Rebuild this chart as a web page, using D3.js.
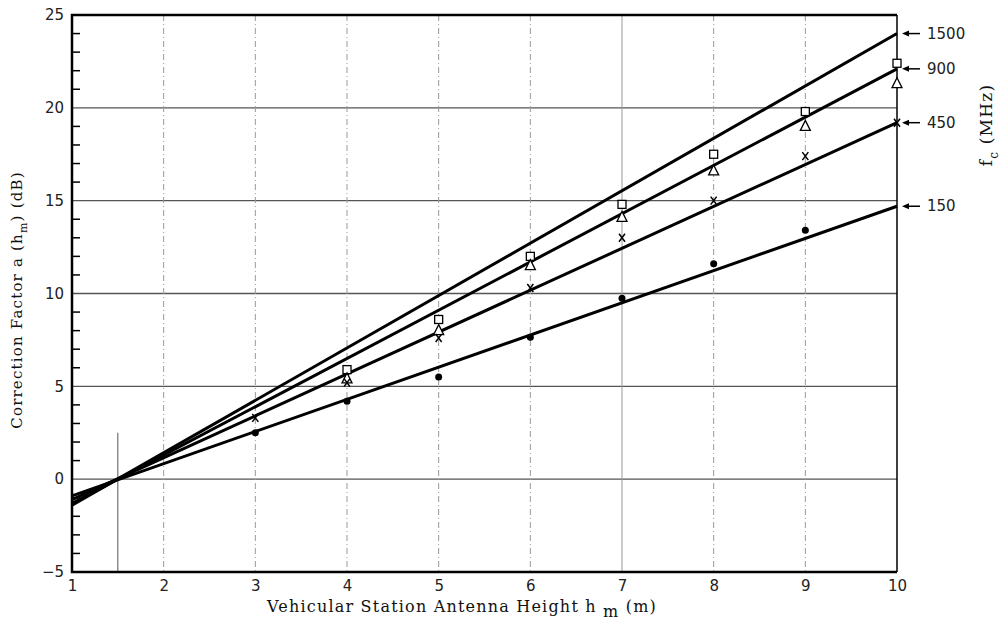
<!DOCTYPE html>
<html lang="en">
<head>
<meta charset="UTF-8">
<title>Correction factor a(hm)</title>
<style>
  body { margin: 0; background: #fff; }
  .tick text { font-family: "DejaVu Sans", sans-serif; font-size: 15px; fill: #222; }
  .lbl { font-family: "DejaVu Serif", serif; font-size: 16px; fill: #111; letter-spacing: 1.2px; }
  .fc { font-family: "DejaVu Sans", sans-serif; font-size: 15px; fill: #222; }
  .fitline { fill: none; stroke: #000; stroke-width: 3px; }
</style>
</head>
<body>
<svg id="chart"></svg>
<script src="https://d3js.org/d3.v7.min.js"></script>
<script>
// frequencies (MHz) and the straight lines, read at hm = 1 and hm = 10
var freqs = ["1500", "900", "450", "150"];
var lineHm = [1, 10];
var lineVals = [
  [-1.4, 24.0],
  [-1.3, 22.1],
  [-1.1, 19.2],
  [-0.9, 14.7]
];
// measured points
var hmSquare = [4, 5, 6, 7, 8, 9, 10];
var valSquare = [5.9, 8.6, 12.0, 14.8, 17.5, 19.8, 22.4];
var hmTri = [4, 5, 6, 7, 8, 9, 10];
var valTri = [5.4, 8.0, 11.5, 14.1, 16.6, 19.0, 21.3];
var hmCross = [3, 4, 5, 6, 7, 8, 9, 10];
var valCross = [3.3, 5.2, 7.6, 10.3, 13.0, 15.0, 17.4, 19.2];
var hmDot = [3, 4, 5, 6, 7, 8, 9];
var valDot = [2.5, 4.2, 5.5, 7.65, 9.75, 11.6, 13.4];
var xTicks = [1, 2, 3, 4, 5, 6, 7, 8, 9, 10];
var yTicks = [-5, 0, 5, 10, 15, 20, 25];

var width = 1006, height = 626;
var m = { left: 72, right: 109, top: 15, bottom: 54 };
var svg = d3.select('#chart').attr('width', width).attr('height', height);

var x = d3.scaleLinear().domain([1, 10]).range([m.left, width - m.right]);
var y = d3.scaleLinear().domain([-5, 25]).range([height - m.bottom, m.top]);

// grid
var grid = svg.append('g');
grid.selectAll('.hg').data([0, 5, 10, 15, 20]).enter().append('line')
  .attr('x1', x(1)).attr('x2', x(10))
  .attr('y1', function(d){ return y(d); }).attr('y2', function(d){ return y(d); })
  .attr('stroke', '#555').attr('stroke-width', 1.3);
grid.selectAll('.vg').data([2, 3, 4, 5, 6, 7, 8, 9]).enter().append('line')
  .attr('x1', function(d){ return x(d); }).attr('x2', function(d){ return x(d); })
  .attr('y1', y(25)).attr('y2', y(-5))
  .attr('stroke', '#999').attr('stroke-width', 1)
  .attr('stroke-dasharray', function(d){ return d === 7 ? null : '6,3,1,3'; });
grid.append('line')
  .attr('x1', x(1.5)).attr('x2', x(1.5))
  .attr('y1', y(2.5)).attr('y2', y(-5))
  .attr('stroke', '#555').attr('stroke-width', 1);

// axes
var xAxis = d3.axisBottom(x).tickValues(xTicks).tickSize(0).tickPadding(8);
svg.append('g').attr('transform', 'translate(0,' + y(-5) + ')').call(xAxis)
  .call(function(g){ g.select('.domain').remove(); });
var yAxis = d3.axisLeft(y).tickValues(yTicks).tickSize(0).tickPadding(8)
  .tickFormat(function(d){ return d < 0 ? '\u2212' + (-d) : d; });
svg.append('g').attr('transform', 'translate(' + x(1) + ',0)').call(yAxis)
  .call(function(g){ g.select('.domain').remove(); });

// minor ticks on the left axis
svg.append('g').selectAll('line').data(d3.range(-5, 26).filter(function(d){ return d % 5 !== 0; }))
  .enter().append('line')
  .attr('x1', x(1)).attr('x2', x(1) + 8)
  .attr('y1', function(d){ return y(d); }).attr('y2', function(d){ return y(d); })
  .attr('stroke', '#000').attr('stroke-width', 1.5);

// frame
svg.append('path')
  .attr('d', 'M' + x(10) + ',' + y(25) + 'H' + x(1) + 'V' + y(-5) + 'H' + x(10))
  .attr('fill', 'none').attr('stroke', '#000').attr('stroke-width', 2.5);
svg.append('line').attr('x1', x(10)).attr('x2', x(10)).attr('y1', y(25)).attr('y2', y(-5))
  .attr('stroke', '#000').attr('stroke-width', 1.5);

// lines
var line = d3.line().x(function(d){ return x(d[0]); }).y(function(d){ return y(d[1]); });
svg.append('g').selectAll('path').data(lineVals).enter().append('path')
  .attr('class', 'fitline')
  .attr('d', function(v){ return line(lineHm.map(function(h, i){ return [h, v[i]]; })); });

// markers
function pts(hs, vs){ return hs.map(function(h, i){ return [h, vs[i]]; }); }
var mk = svg.append('g');
mk.selectAll('.sq').data(pts(hmSquare, valSquare)).enter().append('rect')
  .attr('x', function(d){ return x(d[0]) - 4; }).attr('y', function(d){ return y(d[1]) - 4; })
  .attr('width', 8).attr('height', 8)
  .attr('fill', '#fff').attr('stroke', '#000').attr('stroke-width', 1.3);
mk.selectAll('.tr').data(pts(hmTri, valTri)).enter().append('path')
  .attr('d', function(d){ var cx = x(d[0]), cy = y(d[1]);
    return 'M' + cx + ',' + (cy - 6) + 'L' + (cx + 5) + ',' + (cy + 4) + 'L' + (cx - 5) + ',' + (cy + 4) + 'Z'; })
  .attr('fill', '#fff').attr('stroke', '#000').attr('stroke-width', 1.3);
mk.selectAll('.cr').data(pts(hmCross, valCross)).enter().append('path')
  .attr('d', function(d){ var cx = x(d[0]), cy = y(d[1]);
    return 'M' + (cx - 3) + ',' + (cy - 4) + 'L' + (cx + 3) + ',' + (cy + 4) +
           'M' + (cx + 3) + ',' + (cy - 4) + 'L' + (cx - 3) + ',' + (cy + 4); })
  .attr('fill', 'none').attr('stroke', '#000').attr('stroke-width', 1.5);
mk.selectAll('.dt').data(pts(hmDot, valDot)).enter().append('circle')
  .attr('cx', function(d){ return x(d[0]); }).attr('cy', function(d){ return y(d[1]); })
  .attr('r', 3.5).attr('fill', '#000');

// frequency labels with arrows at the right
var fl = svg.append('g').selectAll('g').data(freqs).enter().append('g')
  .attr('transform', function(d, i){ return 'translate(' + (x(10) + 5) + ',' + y(lineVals[i][1]) + ')'; });
fl.append('line').attr('x1', 4).attr('x2', 18).attr('y1', 0).attr('y2', 0)
  .attr('stroke', '#000').attr('stroke-width', 1.5);
fl.append('path').attr('d', 'M0,0L7,-3L7,3Z').attr('fill', '#000');
fl.append('text').attr('class', 'fc').attr('x', 25).attr('dy', '0.35em').text(function(d){ return d; });

var fc = svg.append('text').attr('class', 'lbl').style('font-size', '17px')
  .attr('transform', 'translate(992,125) rotate(-90)').attr('text-anchor', 'middle');
fc.append('tspan').text('f');
fc.append('tspan').attr('font-size', 12).attr('dy', 6).text('c');
fc.append('tspan').attr('dy', -6).text(' (MHz)');

// axis titles
var yl = svg.append('text').attr('class', 'lbl').style('font-size', '15px')
  .attr('transform', 'translate(22,300) rotate(-90)').attr('text-anchor', 'middle');
yl.append('tspan').text('Correction Factor a (h');
yl.append('tspan').attr('font-size', 11).attr('dy', 5).text('m');
yl.append('tspan').attr('dy', -5).text(') (dB)');

var xl = svg.append('text').attr('class', 'lbl')
  .attr('x', 462).attr('y', 612).attr('text-anchor', 'middle');
xl.append('tspan').text('Vehicular Station Antenna Height h ');
xl.append('tspan').attr('dy', 5).text('m');
xl.append('tspan').attr('dy', -5).text(' (m)');
</script>
</body>
</html>
